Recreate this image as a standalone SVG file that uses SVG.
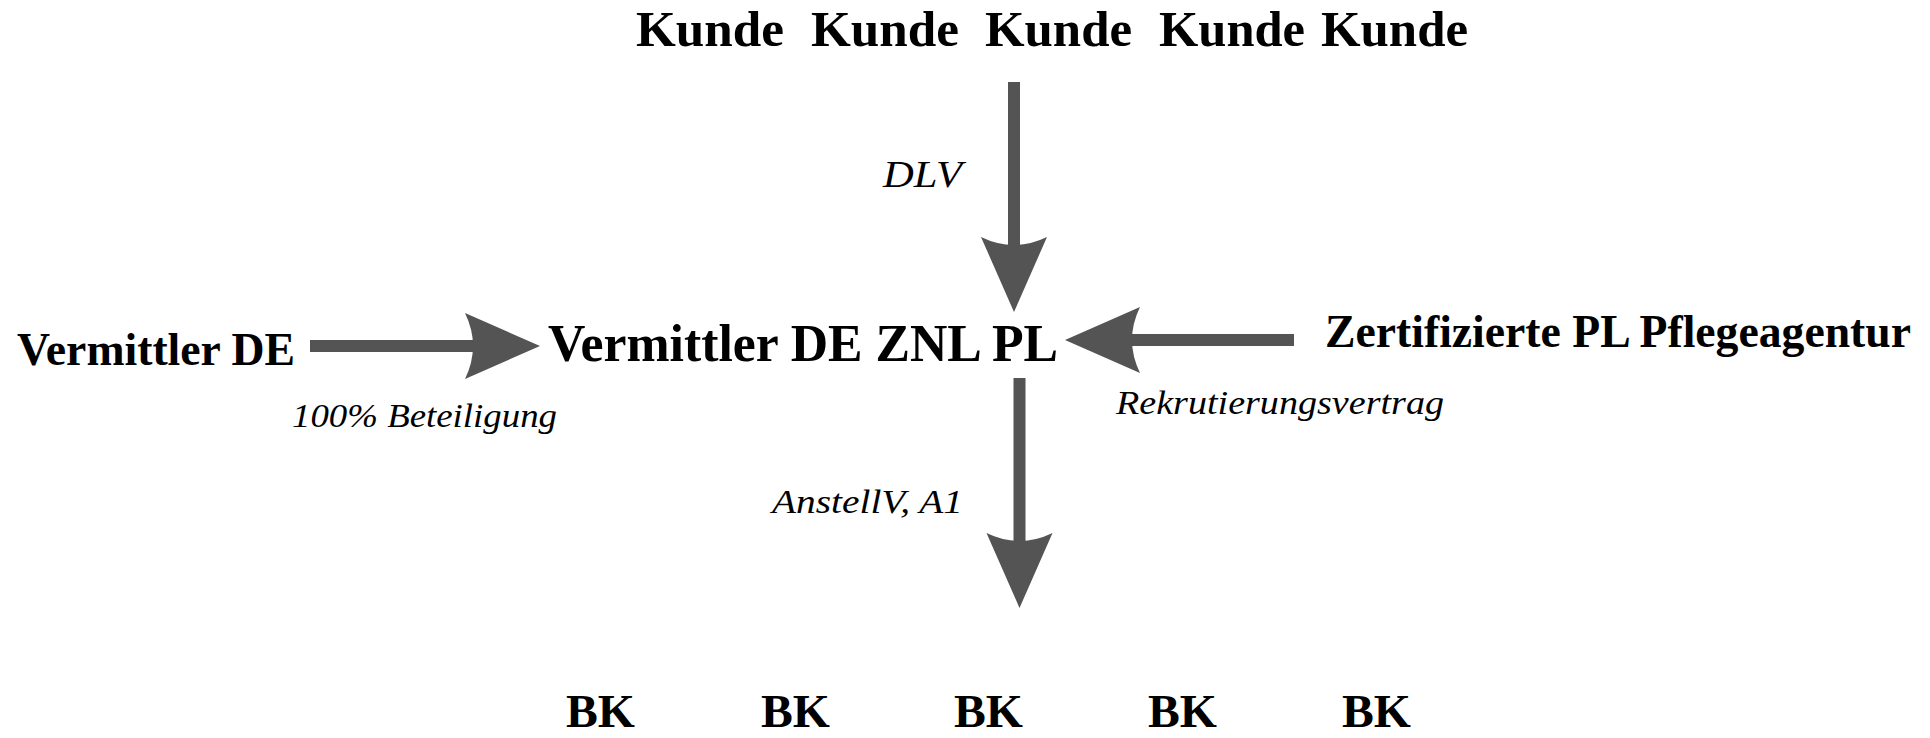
<svg xmlns="http://www.w3.org/2000/svg" width="1930" height="738" viewBox="0 0 1930 738">
<style>
.b{font-family:"Liberation Serif","DejaVu Serif",serif;font-weight:bold;fill:#000}
.i{font-family:"Liberation Serif","DejaVu Serif",serif;font-style:italic;fill:#000}
.c{stroke:#545454;stroke-width:12;fill:none}
</style>
<defs>
<marker id="ah" markerUnits="userSpaceOnUse" markerWidth="76" markerHeight="66" viewBox="0 0 76 66" refX="10" refY="33" orient="auto" overflow="visible">
<path d="M75,33 L0,0 Q16,33 0,66 Z" fill="#545454"/>
</marker>
</defs>
<rect width="1930" height="738" fill="#fff"/>
<g id="connectors">
<line class="c" x1="1014" y1="82" x2="1014" y2="247" marker-end="url(#ah)"/>
<line class="c" x1="310" y1="346" x2="475" y2="346" marker-end="url(#ah)"/>
<line class="c" x1="1294" y1="340" x2="1130" y2="340" marker-end="url(#ah)"/>
<line class="c" x1="1019.5" y1="378" x2="1019.5" y2="543" marker-end="url(#ah)"/>
<text class="i" x="883" y="187" font-size="38" textLength="79" lengthAdjust="spacingAndGlyphs">DLV</text>
<text class="i" x="292" y="427" font-size="34" textLength="265" lengthAdjust="spacingAndGlyphs">100% Beteiligung</text>
<text class="i" x="1116" y="414" font-size="34" textLength="328" lengthAdjust="spacingAndGlyphs">Rekrutierungsvertrag</text>
<text class="i" x="772" y="513" font-size="34" textLength="191" lengthAdjust="spacingAndGlyphs">AnstellV, A1</text>
</g>
<g id="kunde1"><text class="b" x="636" y="46" font-size="50" textLength="148" lengthAdjust="spacingAndGlyphs">Kunde</text></g>
<g id="kunde2"><text class="b" x="811" y="46" font-size="50" textLength="148" lengthAdjust="spacingAndGlyphs">Kunde</text></g>
<g id="kunde3"><text class="b" x="985" y="46" font-size="50" textLength="147" lengthAdjust="spacingAndGlyphs">Kunde</text></g>
<g id="kunde4"><text class="b" x="1159" y="46" font-size="50" textLength="146" lengthAdjust="spacingAndGlyphs">Kunde</text></g>
<g id="kunde5"><text class="b" x="1321" y="46" font-size="50" textLength="147" lengthAdjust="spacingAndGlyphs">Kunde</text></g>
<g id="vermittler-de"><text class="b" x="17" y="365" font-size="46" textLength="278" lengthAdjust="spacingAndGlyphs">Vermittler DE</text></g>
<g id="vermittler-znl"><text class="b" x="548" y="361" font-size="52" textLength="510" lengthAdjust="spacingAndGlyphs">Vermittler DE ZNL PL</text></g>
<g id="agentur"><text class="b" x="1325" y="347" font-size="46" textLength="586" lengthAdjust="spacingAndGlyphs">Zertifizierte PL Pflegeagentur</text></g>
<g id="bk1"><text class="b" x="566" y="727" font-size="47" textLength="69" lengthAdjust="spacingAndGlyphs">BK</text></g>
<g id="bk2"><text class="b" x="761" y="727" font-size="47" textLength="69" lengthAdjust="spacingAndGlyphs">BK</text></g>
<g id="bk3"><text class="b" x="954" y="727" font-size="47" textLength="69" lengthAdjust="spacingAndGlyphs">BK</text></g>
<g id="bk4"><text class="b" x="1148" y="727" font-size="47" textLength="69" lengthAdjust="spacingAndGlyphs">BK</text></g>
<g id="bk5"><text class="b" x="1342" y="727" font-size="47" textLength="69" lengthAdjust="spacingAndGlyphs">BK</text></g>
</svg>
